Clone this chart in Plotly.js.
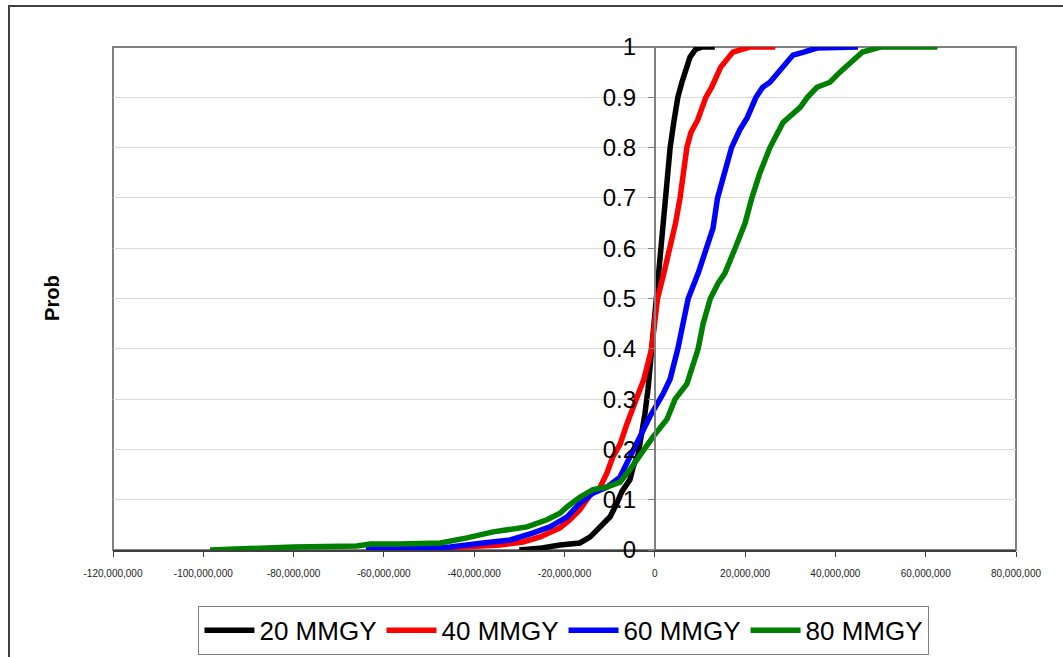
<!DOCTYPE html>
<html>
<head>
<meta charset="utf-8">
<script src="https://cdn.plot.ly/plotly-3.0.1.min.js"></script>
<style>
  html, body { margin: 0; padding: 0; background: #fff; }
  #wrap { position: relative; width: 1063px; height: 657px; overflow: hidden; }
  #chart { position: absolute; left: 0; top: 0; width: 1063px; height: 657px; }
  #frame { position: absolute; left: 8px; top: 5px; width: 1200px; height: 800px;
           border-left: 2px solid #404040; border-top: 2px solid #404040; pointer-events: none; }
</style>
</head>
<body>
<div id="wrap">
  <div id="chart"></div>
  <div id="frame"></div>
</div>
<script>
// Series names
const seriesNames = ["20 MMGY", "40 MMGY", "60 MMGY", "80 MMGY"];
const seriesColors = ["#000000", "#ff0000", "#0000ff", "#008000"];

// 20 MMGY
const x20 = [-30e6, -25e6, -21e6, -16.6e6, -14.3e6, -12.1e6, -9.9e6, -8.4e6, -7.3e6, -5.5e6, -4.8e6, -3.7e6, -2.8e6, -2.2e6, -1.5e6, -0.7e6, 0.0, 0.3e6, 0.9e6, 1.5e6, 2.0e6, 2.4e6, 3.0e6, 3.4e6, 4.2e6, 5.1e6, 6.0e6, 6.7e6, 7.8e6, 9.0e6, 10.5e6, 13.3e6];
const y20 = [0, 0.004, 0.01, 0.014, 0.026, 0.046, 0.066, 0.093, 0.116, 0.14, 0.165, 0.19, 0.23, 0.27, 0.32, 0.4, 0.46, 0.5, 0.55, 0.6, 0.65, 0.7, 0.75, 0.8, 0.85, 0.9, 0.93, 0.95, 0.98, 0.995, 1.0, 1.0];

// 40 MMGY
const x40 = [-50.4e6, -41.5e6, -34.3e6, -29.2e6, -25.4e6, -21e6, -18.8e6, -16.6e6, -14.3e6, -12.1e6, -10.6e6, -9.3e6, -7.7e6, -6.2e6, -4.5e6, -2.4e6, -0.7e6, 0.6e6, 2.0e6, 3.4e6, 4.6e6, 5.6e6, 6.3e6, 7.1e6, 8.0e6, 9.5e6, 11.3e6, 12.6e6, 14.6e6, 17.3e6, 21e6, 26.7e6];
const y40 = [0.002, 0.006, 0.01, 0.016, 0.026, 0.044, 0.06, 0.08, 0.11, 0.125, 0.153, 0.185, 0.21, 0.25, 0.29, 0.34, 0.4, 0.5, 0.55, 0.6, 0.65, 0.7, 0.75, 0.8, 0.83, 0.855, 0.9, 0.92, 0.96, 0.99, 1.0, 1.0];

// 60 MMGY
const x60 = [-64e6, -56.4e6, -45.3e6, -38e6, -32e6, -26.9e6, -23.2e6, -19.4e6, -16.6e6, -13.7e6, -10.6e6, -7.7e6, -5.5e6, -3.3e6, -1.1e6, 1.8e6, 3.4e6, 5.1e6, 6.3e6, 7.4e6, 9.6e6, 11.6e6, 12.9e6, 13.9e6, 15.5e6, 17e6, 18.8e6, 20.5e6, 22.4e6, 23.9e6, 25.5e6, 27.7e6, 30.6e6, 33e6, 35.9e6, 45e6];
const y60 = [0.002, 0.004, 0.006, 0.014, 0.02, 0.034, 0.046, 0.066, 0.093, 0.113, 0.125, 0.145, 0.185, 0.225, 0.265, 0.31, 0.34, 0.4, 0.45, 0.5, 0.55, 0.6, 0.64, 0.7, 0.75, 0.8, 0.835, 0.86, 0.9, 0.92, 0.93, 0.954, 0.984, 0.99, 0.998, 1.0];

// 80 MMGY
const x80 = [-98.5e6, -90e6, -80e6, -66e6, -63e6, -56.4e6, -47.5e6, -41.6e6, -35.8e6, -28.3e6, -23.9e6, -21e6, -19.4e6, -16.6e6, -13.7e6, -10.6e6, -7.7e6, -5.5e6, -3.3e6, -0.4e6, 2.7e6, 4.5e6, 7.1e6, 7.8e6, 9.6e6, 10.7e6, 12.3e6, 14e6, 15.5e6, 17.8e6, 20e6, 21.5e6, 23.3e6, 25.5e6, 28.4e6, 32.2e6, 33.8e6, 35.9e6, 38.8e6, 41e6, 43.3e6, 46e6, 50e6, 62.6e6];
const y80 = [0, 0.003, 0.006, 0.008, 0.012, 0.012, 0.014, 0.024, 0.036, 0.046, 0.06, 0.073, 0.086, 0.105, 0.12, 0.125, 0.135, 0.16, 0.19, 0.225, 0.26, 0.3, 0.33, 0.35, 0.4, 0.45, 0.5, 0.53, 0.55, 0.6, 0.65, 0.7, 0.75, 0.8, 0.85, 0.88, 0.9, 0.92, 0.93, 0.95, 0.97, 0.99, 1.0, 1.0];

// Axis ticks
const xTickVals = [-120e6, -100e6, -80e6, -60e6, -40e6, -20e6, 0, 20e6, 40e6, 60e6, 80e6];
const xTickText = ["-120,000,000", "-100,000,000", "-80,000,000", "-60,000,000", "-40,000,000", "-20,000,000", "0", "20,000,000", "40,000,000", "60,000,000", "80,000,000"];
const yTitle = "Prob";

const xs = [x20, x40, x60, x80];
const ys = [y20, y40, y60, y80];

const traces = xs.map((x, i) => ({
  type: "scatter",
  mode: "lines",
  x: x,
  y: ys[i],
  name: seriesNames[i],
  line: { color: seriesColors[i], width: 5.5 },
  hoverinfo: "skip"
}));

const layout = {
  width: 1063,
  height: 657,
  margin: { l: 113, r: 47, t: 47, b: 107, autoexpand: false },
  paper_bgcolor: "rgba(0,0,0,0)",
  plot_bgcolor: "#ffffff",
  font: { family: "Liberation Sans, Arial, sans-serif", color: "#000" },
  showlegend: true,
  xaxis: {
    range: [-120e6, 80e6],
    tickvals: xTickVals,
    ticktext: xTickText,
    ticks: "outside",
    ticklen: 5,
    tickwidth: 1,
    tickcolor: "#404040",
    ticklabelstandoff: 8,
    showline: true,
    linecolor: "#404040",
    linewidth: 2,
    showgrid: false,
    zeroline: false,
    automargin: false,
    tickfont: { size: 10, color: "#222" },
    fixedrange: true
  },
  yaxis: {
    range: [0, 1],
    dtick: 0.1,
    anchor: "free",
    position: 0.6,
    showline: true,
    linecolor: "#808080",
    linewidth: 2,
    ticks: "outside",
    ticklen: 6,
    tickwidth: 1,
    tickcolor: "#808080",
    ticklabelstandoff: 7,
    showgrid: true,
    gridcolor: "#d9d9d9",
    gridwidth: 1,
    zeroline: false,
    automargin: false,
    tickfont: { size: 24, color: "#000" },
    fixedrange: true
  },
  shapes: [
    { type: "rect", xref: "paper", yref: "paper", x0: 0, x1: 1, y0: 0, y1: 1,
      line: { color: "#808080", width: 2 }, fillcolor: "rgba(0,0,0,0)", layer: "below" }
  ],
  annotations: [
    { text: "<b>" + yTitle + "</b>", xref: "paper", yref: "paper", x: -0.0676, y: 0.501,
      showarrow: false, textangle: -90, font: { size: 20, color: "#000" },
      xanchor: "center", yanchor: "middle" }
  ],
  legend: {
    orientation: "h",
    x: 0.4994,
    xanchor: "center",
    y: -0.111,
    yanchor: "top",
    bordercolor: "#808080",
    borderwidth: 1,
    bgcolor: "#ffffff",
    font: { size: 26, color: "#000" },
    itemwidth: 50,
    tracegroupgap: 0
  }
};

Plotly.newPlot("chart", traces, layout, { displayModeBar: false, staticPlot: true });
</script>
</body>
</html>
